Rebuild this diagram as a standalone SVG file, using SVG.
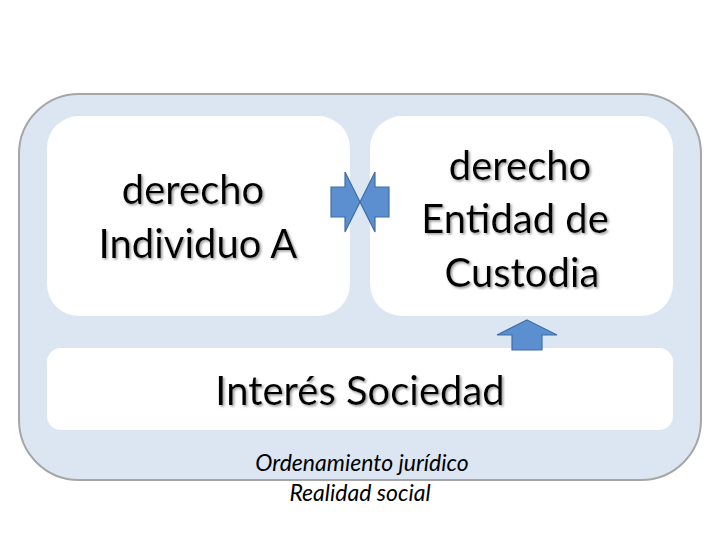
<svg xmlns="http://www.w3.org/2000/svg" width="720" height="540" viewBox="0 0 720 540">
<defs><filter id="sh" x="-5%" y="-5%" width="110%" height="120%"><feDropShadow dx="1.5" dy="1.5" stdDeviation="0.8" flood-color="#999"/></filter></defs>
<style>
.t{font-family:Lato,"Open Sans",sans-serif;font-size:40px;fill:#000;text-anchor:middle;filter:url(#sh)}
.i{font-family:Lato,"Open Sans",sans-serif;font-size:23px;font-style:italic;fill:#000;text-anchor:middle}
.box{fill:#fff}
.ar{fill:#5b8fd0;stroke:#3f6fa8;stroke-width:1.2}
</style>
<rect width="720" height="540" fill="#fff"/>
<g id="frame"><rect x="19" y="94" width="682" height="386" rx="60" fill="#dce6f2" stroke="#a6a6a6" stroke-width="2"/></g>
<g id="a"><rect class="box" x="47" y="116" width="303" height="200" rx="32"/>
<text class="t" x="193" y="204">derecho</text><text class="t" x="198" y="258">Individuo A</text></g>
<g id="b"><rect class="box" x="370" y="116" width="303" height="200" rx="32"/>
<text class="t" x="520" y="180">derecho</text><text class="t" x="515" y="233">Entidad de</text><text class="t" x="522" y="287">Custodia</text></g>
<g id="c"><rect class="box" x="47" y="348" width="626" height="82" rx="14"/>
<text class="t" x="360" y="405">Interés Sociedad</text></g>
<g id="connectors">
<polygon class="ar" points="331,187 345,187 345,172 360,202 345,232 345,217 331,217"/>
<polygon class="ar" points="389,187 375,187 375,172 360,202 375,232 375,217 389,217"/>
<polygon class="ar" points="527,320 557,335 542,335 542,350 512,350 512,335 497,335"/>
</g>
<g id="notes"><text class="i" x="362" y="471">Ordenamiento jurídico</text><text class="i" x="360" y="501">Realidad social</text></g>
</svg>
